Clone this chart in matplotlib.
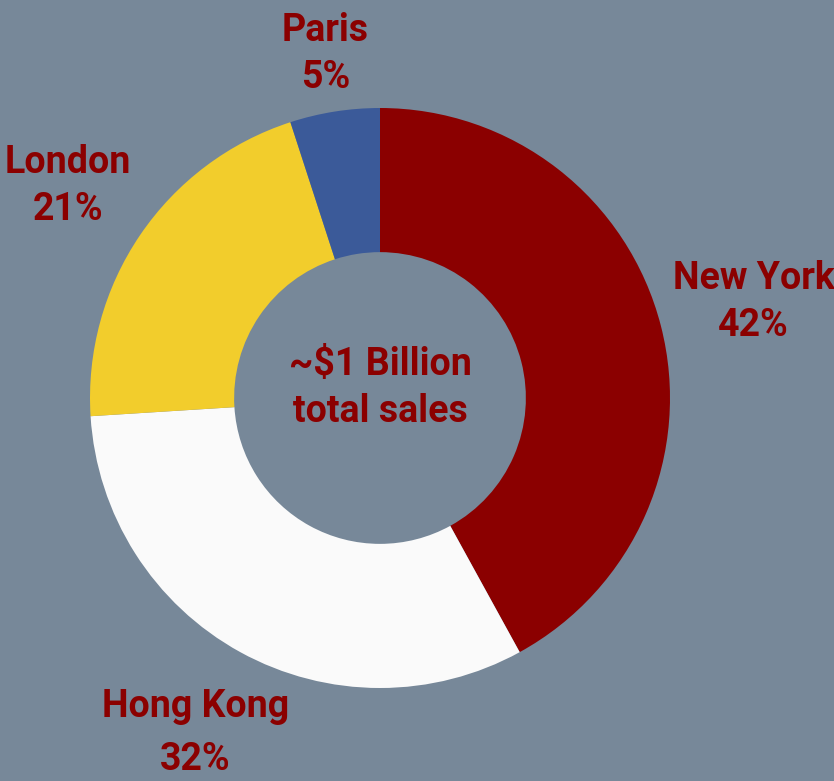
import numpy as np
import matplotlib
matplotlib.use("Agg")
import matplotlib.pyplot as plt

# ============================================================
# DATA
# ============================================================
cities = ["New York", "Hong Kong", "London", "Paris"]
shares = [42, 32, 21, 5]
colors = ["#8B0000", "#FAFAFA", "#F2CD2C", "#3B5A99"]
label_dist = [1.33, 1.32, 1.30, 1.20]
center_text = "~$1 Billion\ntotal sales"

BG = "#778899"
TXT = "#8B0000"
FONT = "Roboto"

W, H, DPI = 834, 781, 100
CX, CY, R = 380, 398, 290   # pixel center and outer radius

fig = plt.figure(figsize=(W / DPI, H / DPI), dpi=DPI, facecolor=BG)
ax = fig.add_axes([0, 0, 1, 1])
ax.set_facecolor(BG)

wedges, _ = ax.pie(shares, colors=colors, startangle=90, counterclock=False,
                   radius=1.0, wedgeprops=dict(width=0.497, linewidth=0))

# labels at mid-angle of each wedge
for w, name, pct, d in zip(wedges, cities, shares, label_dist):
    ang = np.deg2rad((w.theta1 + w.theta2) / 2)
    ls = 1.55 if name == "Hong Kong" else 1.35
    ax.text(d * np.cos(ang), d * np.sin(ang), f"{name}\n{pct}%",
            ha="center", va="center", color=TXT, fontsize=27,
            fontweight="bold", family=FONT, linespacing=ls)

ax.text(0, 0.035, center_text, ha="center", va="center", color=TXT,
        fontsize=27, fontweight="bold", family=FONT, linespacing=1.35)

ax.set_xlim(-CX / R, (W - CX) / R)
ax.set_ylim(-(H - CY) / R, CY / R)
ax.set_aspect("auto")
ax.axis("off")

fig.savefig("out.png", dpi=DPI, facecolor=BG)
